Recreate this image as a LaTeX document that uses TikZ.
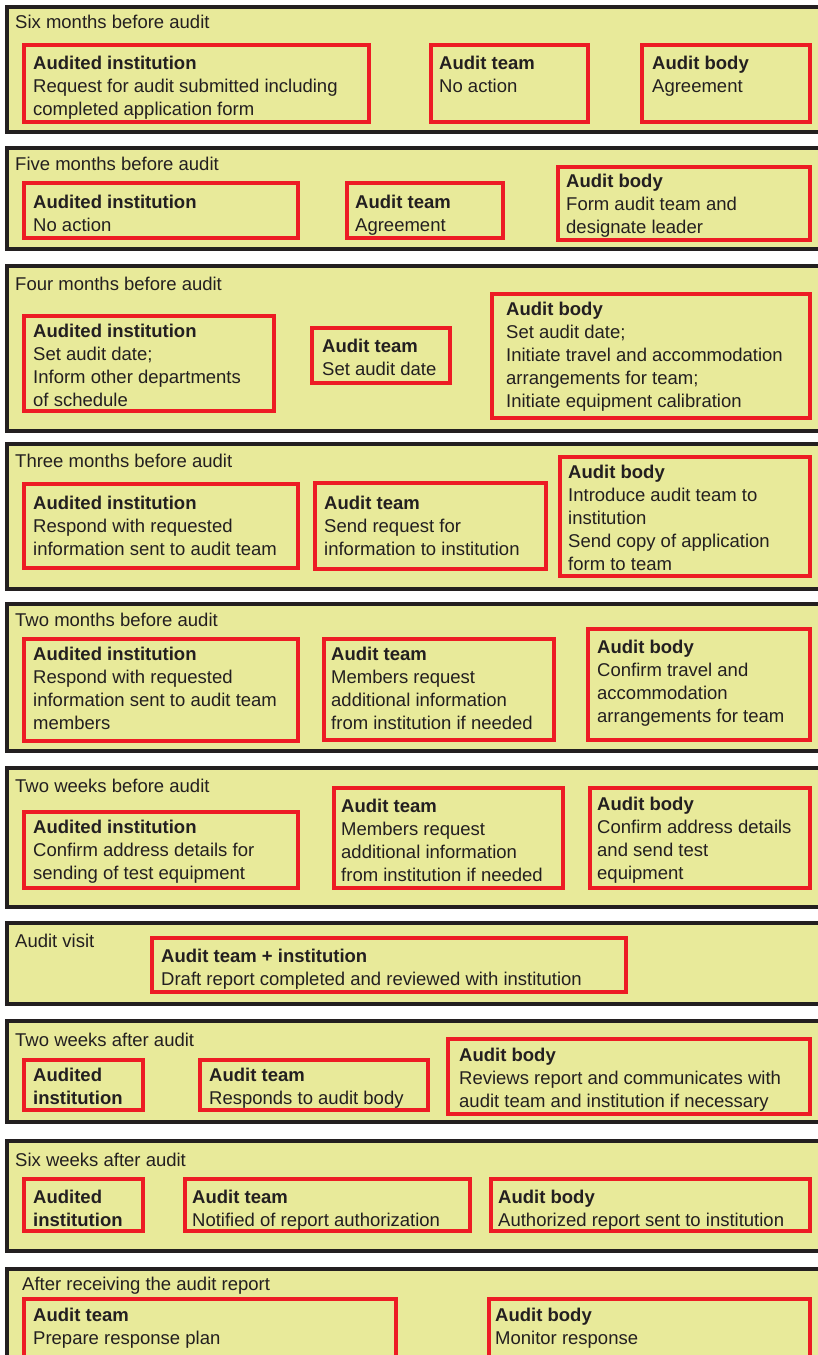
\documentclass[tikz,border=0pt]{standalone}
\usepackage{fontspec}
\setmainfont{Liberation Sans}
\usepackage{xcolor}
\definecolor{panelfill}{HTML}{E8EA9A}
\definecolor{panelline}{HTML}{231F20}
\definecolor{boxred}{HTML}{ED1C24}
\definecolor{ink}{HTML}{231F20}

\begin{document}
\begin{tikzpicture}
        [
        x=1pt, y=-1pt,
        panel/.style = {draw=panelline, line width=4pt, fill=panelfill},
        redbox/.style = {draw=boxred, line width=3.5pt},
        txt/.style = {anchor=north west, inner sep=0pt, align=left, text=ink,
                      font=\fontsize{18.5}{23}\selectfont}
        ]
    \useasboundingbox (0,0) rectangle (818,1355);
    \clip (0,0) rectangle (818,1355);

    % six months before
    \draw[panel] (7,7) rectangle (830,132);
    \node[txt] (l1) at (15,14.6) {Six months before audit};
    \draw[redbox] (24,45) rectangle (369,122);
    \node[txt] (ai1) at (33,55.6) {\textbf{Audited institution}\\Request for audit submitted including\\completed application form};
    \draw[redbox] (431,45) rectangle (588,122);
    \node[txt] (at1) at (439,55.6) {\textbf{Audit team}\\No action};
    \draw[redbox] (642,45) rectangle (810,122);
    \node[txt] (ab1) at (652,55.6) {\textbf{Audit body}\\Agreement};

    % five months before
    \draw[panel] (7,148) rectangle (830,249);
    \node[txt] (l2) at (15,156.6) {Five months before audit};
    \draw[redbox] (24,183) rectangle (298,238);
    \node[txt] (ai2) at (33,194.6) {\textbf{Audited institution}\\No action};
    \draw[redbox] (347,183) rectangle (503,238);
    \node[txt] (at2) at (355,194.6) {\textbf{Audit team}\\Agreement};
    \draw[redbox] (558,167) rectangle (810,240);
    \node[txt] (ab2) at (566,173.6) {\textbf{Audit body}\\Form audit team and\\designate leader};

    % four months before
    \draw[panel] (7,266) rectangle (830,431);
    \node[txt] (l3) at (15,276.6) {Four months before audit};
    \draw[redbox] (24,316) rectangle (274,411);
    \node[txt] (ai3) at (33,323.6) {\textbf{Audited institution}\\Set audit date;\\Inform other departments\\of schedule};
    \draw[redbox] (312,328) rectangle (450,383);
    \node[txt] (at3) at (322,338.6) {\textbf{Audit team}\\Set audit date};
    \draw[redbox] (492,294) rectangle (810,418);
    \node[txt] (ab3) at (506,301.6) {\textbf{Audit body}\\Set audit date;\\Initiate travel and accommodation\\arrangements for team;\\Initiate equipment calibration};

    % three months before
    \draw[panel] (7,444) rectangle (830,589);
    \node[txt] (l4) at (15,453.6) {Three months before audit};
    \draw[redbox] (24,484) rectangle (298,568);
    \node[txt] (ai4) at (33,495.6) {\textbf{Audited institution}\\Respond with requested\\information sent to audit team};
    \draw[redbox] (315,483) rectangle (546,569);
    \node[txt] (at4) at (324,495.6) {\textbf{Audit team}\\Send request for\\information to institution};
    \draw[redbox] (560,457) rectangle (810,576);
    \node[txt] (ab4) at (568,464.6) {\textbf{Audit body}\\Introduce audit team to\\institution\\Send copy of application\\form to team};

    % two months before
    \draw[panel] (7,604) rectangle (830,751);
    \node[txt] (l5) at (15,612.6) {Two months before audit};
    \draw[redbox] (24,639) rectangle (298,741);
    \node[txt] (ai5) at (33,646.6) {\textbf{Audited institution}\\Respond with requested\\information sent to audit team\\members};
    \draw[redbox] (324,639) rectangle (554,740);
    \node[txt] (at5) at (331,646.6) {\textbf{Audit team}\\Members request\\additional information\\from institution if needed};
    \draw[redbox] (588,629) rectangle (810,740);
    \node[txt] (ab5) at (597,639.6) {\textbf{Audit body}\\Confirm travel and\\accommodation\\arrangements for team};

    % two weeks before
    \draw[panel] (7,768) rectangle (830,907);
    \node[txt] (l6) at (15,778.6) {Two weeks before audit};
    \draw[redbox] (24,812) rectangle (298,888);
    \node[txt] (ai6) at (33,819.6) {\textbf{Audited institution}\\Confirm address details for\\sending of test equipment};
    \draw[redbox] (334,788) rectangle (563,888);
    \node[txt] (at6) at (341,798.6) {\textbf{Audit team}\\Members request\\additional information\\from institution if needed};
    \draw[redbox] (590,788) rectangle (810,888);
    \node[txt] (ab6) at (597,796.6) {\textbf{Audit body}\\Confirm address details\\and send test\\equipment};

    % audit visit
    \draw[panel] (7,923) rectangle (830,1004);
    \node[txt] (l7) at (15,933.6) {Audit visit};
    \draw[redbox] (152,938) rectangle (626,992);
    \node[txt] (ati7) at (161,948.6) {\textbf{Audit team + institution}\\Draft report completed and reviewed with institution};

    % two weeks after
    \draw[panel] (7,1021) rectangle (830,1122);
    \node[txt] (l8) at (15,1032.6) {Two weeks after audit};
    \draw[redbox] (24,1060) rectangle (143,1110);
    \node[txt] (ai8) at (33,1067.6) {\textbf{Audited}\\\textbf{institution}};
    \draw[redbox] (200,1060) rectangle (428,1110);
    \node[txt] (at8) at (209,1067.6) {\textbf{Audit team}\\Responds to audit body};
    \draw[redbox] (448,1039) rectangle (810,1114);
    \node[txt] (ab8) at (459,1047.6) {\textbf{Audit body}\\Reviews report and communicates with\\audit team and institution if necessary};

    % six weeks after
    \draw[panel] (7,1141) rectangle (830,1251);
    \node[txt] (l9) at (15,1152.6) {Six weeks after audit};
    \draw[redbox] (24,1179) rectangle (143,1231);
    \node[txt] (ai9) at (33,1189.6) {\textbf{Audited}\\\textbf{institution}};
    \draw[redbox] (185,1179) rectangle (470,1231);
    \node[txt] (at9) at (192,1189.6) {\textbf{Audit team}\\Notified of report authorization};
    \draw[redbox] (491,1179) rectangle (810,1231);
    \node[txt] (ab9) at (498,1189.6) {\textbf{Audit body}\\Authorized report sent to institution};

    % after the report
    \draw[panel] (7,1269) rectangle (830,1375);
    \node[txt] (l10) at (22,1276.6) {After receiving the audit report};
    \draw[redbox] (24,1299) rectangle (396,1375);
    \node[txt] (at10) at (33,1307.6) {\textbf{Audit team}\\Prepare response plan};
    \draw[redbox] (489,1299) rectangle (810,1375);
    \node[txt] (ab10) at (495,1307.6) {\textbf{Audit body}\\Monitor response};
\end{tikzpicture}
\end{document}
